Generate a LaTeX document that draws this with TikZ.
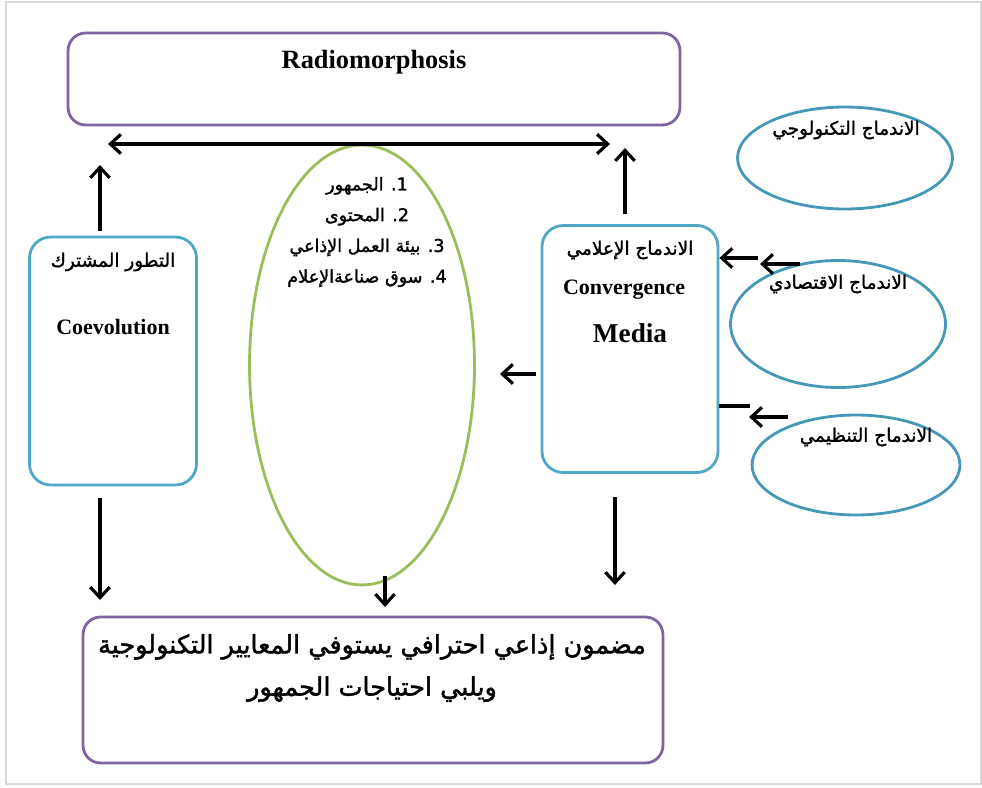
\documentclass[tikz,border=0pt]{standalone}
\usepackage{fontspec}
\setmainfont{Liberation Serif}
\newfontfamily\arabicfont[Script=Arabic,FakeBold=1.6]{DejaVu Sans}
\TeXXeTstate=1
\usetikzlibrary{shapes.geometric,arrows.meta}
\definecolor{boxpurple}{RGB}{128,100,162}
\definecolor{boxteal}{RGB}{80,168,198}
\definecolor{ovalgreen}{RGB}{155,190,90}
\definecolor{ovalteal}{RGB}{70,152,182}
\tikzset{pbox/.style={draw=boxpurple,line width=1.6pt,rounded corners=10pt},
 tbox/.style={draw=boxteal,line width=1.6pt,rounded corners=12pt},
 oval/.style={ellipse,draw=ovalteal,line width=1.6pt,inner sep=0pt},
 tip/.tip={Straight Barb[length=6pt,width=11pt,line width=1.8pt]},
 arr/.style={-tip,line width=1.8pt},
 ar/.style={font=\arabicfont\fontsize{10.5}{13}\selectfont},
 en/.style={font=\bfseries\fontsize{12.5}{15}\selectfont},
 }

\begin{document}
\begin{tikzpicture}[x=0.02cm,y=-0.02cm]
  \useasboundingbox (0,0) rectangle (982,787);
  \draw[gray!30,line width=1pt] (6,2) rectangle (981,784);
  % boxes
  \node[pbox,minimum width=12.24cm,minimum height=1.84cm] (radio) at (374,79) {};
  \node[en,font=\bfseries\fontsize{15}{17}\selectfont] (radiot) at (374,62) {Radiomorphosis};
  \node[tbox,minimum width=3.34cm,minimum height=4.96cm] (coevo) at (113,361) {};
  \node[ar] (coevoar) at (113,262) {\beginR التطور المشترك\endR};
  \node[en] (coevoen) at (113,327) {Coevolution};
  \node[tbox,minimum width=3.52cm,minimum height=4.94cm] (media) at (630,349) {};
  \node[ar] (mediaar) at (630,250) {\beginR الاندماج الإعلامي\endR};
  \node[en] (mediaen) at (624,290) {Convergence};
  \node[en,font=\bfseries\fontsize{15.5}{18}\selectfont] (mediaen2) at (630,333) {Media};
  \node[ellipse,draw=ovalgreen,line width=1.6pt,minimum width=4.5cm,minimum height=8.8cm] (green) at (362,365) {};
  \node[ar,align=center,font=\arabicfont\fontsize{10}{17.5}\selectfont] (items) at (367,232)
    {\beginR 1\kern0pt. الجمهور\endR\\ \beginR 2\kern0pt. المحتوى\endR\\
     \beginR 3\kern0pt. بيئة العمل الإذاعي\endR\\ \beginR 4\kern0pt. سوق صناعةالإعلام\endR};
  \node[pbox,minimum width=11.6cm,minimum height=2.92cm] (result) at (373,690) {};
  \node[ar,align=center,font=\arabicfont\fontsize{14.5}{24}\selectfont] (resultt) at (372,668)
    {\beginR مضمون إذاعي احترافي يستوفي المعايير التكنولوجية\endR\\ \beginR ويلبي احتياجات الجمهور\endR};
  % right ellipses
  \node[oval,minimum width=4.3cm,minimum height=2.04cm] (techno) at (845,158) {};
  \node[ar] (technot) at (846,130) {\beginR الاندماج التكنولوجي\endR};
  \node[oval,minimum width=4.3cm,minimum height=2.54cm] (eco) at (838,324) {};
  \node[ar] (ecot) at (838,284) {\beginR الاندماج الاقتصادي\endR};
  \node[oval,minimum width=4.16cm,minimum height=2cm] (org) at (856,465) {};
  \node[ar] (orgt) at (866,437) {\beginR الاندماج التنظيمي\endR};
  % arrows
  \coordinate (lu) at (100,165);
  \coordinate (ru) at (625,148);
  \coordinate (dl) at (108,144);
  \coordinate (dr) at (610,144);
  \draw[arr] (lu |- coevo.north) ++(0,-5) -- (lu);
  \draw[arr] (ru |- media.north) ++(0,-10) -- (ru);
  \draw[arr,tip-tip] (dl) -- (dr);
  \coordinate (ld) at (100,600);
  \coordinate (md) at (385,607);
  \coordinate (rd) at (615,585);
  \draw[arr] (ld |- coevo.south) ++(0,12) -- (ld);
  \draw[arr] (md |- green.south) ++(0,-10) -- (md);
  \draw[arr] (rd |- media.south) ++(0,23) -- (rd);
  \coordinate (lg) at (500,374);
  \draw[arr] (media.west |- lg) ++(-5,0) -- (lg);
  \coordinate (a1) at (758,258);
  \coordinate (a2) at (800,264);
  \coordinate (a3) at (750,406);
  \coordinate (a4) at (788,417);
  \draw[arr] (a1) -- (media.east |- a1);
  \draw[arr] (a2) -- ++(-40,0);
  \draw[line width=1.8pt] (media.east |- a3) -- (a3);
  \draw[arr] (a4) -- ++(-39,0);
\end{tikzpicture}
\end{document}
